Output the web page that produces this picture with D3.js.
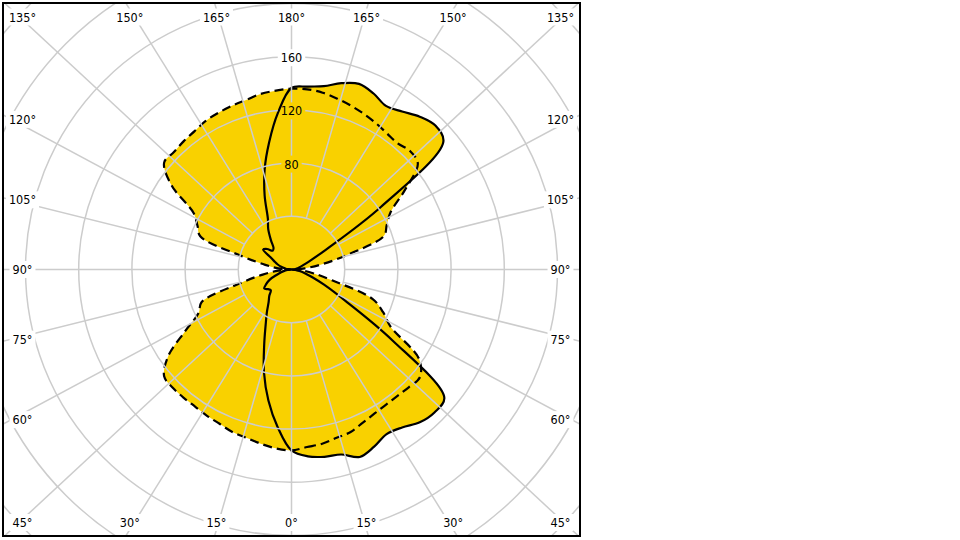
<!DOCTYPE html>
<html>
<head>
<meta charset="utf-8">
<script src="https://cdn.jsdelivr.net/npm/d3@7"></script>
<style>
  html, body { margin: 0; padding: 0; background: #ffffff; }
  svg { display: block; }
  text { font-family: "DejaVu Sans Condensed", "DejaVu Sans", sans-serif; font-size: 12.5px; fill: #000; }
</style>
</head>
<body>
<svg id="chart" width="960" height="540"></svg>
<script>
// gamma angles (0 = down, 180 = up)
const gammas = [0,5,10,15,20,25,30,35,40,45,50,55,60,65,70,75,80,85,90,95,100,105,110,115,120,125,130,135,140,145,150,155,160,165,170,175,180];
// C0 plane (solid, right half) and C180 plane (solid, left half)
const c0   = [136,141,143,144,150,147,143,145,150,152,150,92,46,27,16,10,6,3,0,2,4,6,9,15,30,82,149,153,150,145,142,146,148.5,145,140,138,136.5];
const c180 = [136,119,100,80,60,46,37,30,26,22,23,25,22,18,12,8,5,3,0,3,5,8,11,14,18,26,24,20,21,27,35,42,59,78,97,118,136.5];
// C90 plane (dashed, right half) and C270 plane (dashed, left half)
const c90  = [136,134,133,131,130,127,125,124,124,125,126,117,86,76,65,32,17,8,0,10,24,45,74,79,86,104,124,126,124,125,127,129,131,133,135,136,136];
const c270 = [136,135,133,131,130,128,127,126,126,126,125,113,92,77,72,40,22,10,0,10,20,38,73,78,85,110,125,125,126,127,129,130,131,132,134,135,136];
// radial tick labels and angle grid
const radialTicks = [40,80,120,160,200,240,280];
const radialLabels = [80,120,160];
const gridAngles = d3.range(0, 360, 15); // screen angle, clockwise from up

const svg = d3.select("#chart");
const frame = {x: 3, y: 3, w: 577, h: 533};
const cx = frame.x + frame.w / 2, cy = frame.y + frame.h / 2;
const r = d3.scaleLinear().domain([0, 200]).range([0, 266]);

const defs = svg.append("defs");
defs.append("clipPath").attr("id", "frameClip")
  .append("rect").attr("x", frame.x).attr("y", frame.y).attr("width", frame.w).attr("height", frame.h);

const plot = svg.append("g").attr("clip-path", "url(#frameClip)");

// build polygon points for a plane pair (right half gammas 0..180, left half 175..5)
function planePoints(right, left) {
  const pts = [];
  gammas.forEach((g, i) => pts.push([Math.PI - g * Math.PI / 180, r(right[i])]));
  for (let i = gammas.length - 2; i >= 1; i--) {
    pts.push([Math.PI + gammas[i] * Math.PI / 180, r(left[i])]);
  }
  return pts;
}
const line = d3.lineRadial().angle(d => d[0]).radius(d => d[1])
  .curve(d3.curveCatmullRomClosed.alpha(0.5));

const solidPts = planePoints(c0, c180);
const dashPts = planePoints(c90, c270);

const curves = plot.append("g").attr("transform", `translate(${cx},${cy})`);
const fillColor = "#f9d100";
curves.append("path").attr("d", line(dashPts)).attr("fill", fillColor);
curves.append("path").attr("d", line(solidPts)).attr("fill", fillColor);

// grid (masked around labels)
const mask = defs.append("mask").attr("id", "labelMask").attr("maskUnits", "userSpaceOnUse")
  .attr("x", 0).attr("y", 0).attr("width", 960).attr("height", 540);
mask.append("rect").attr("x", 0).attr("y", 0).attr("width", 960).attr("height", 540).attr("fill", "white");

const grid = plot.append("g").attr("mask", "url(#labelMask)");
const gridColor = "#cccccc";
grid.selectAll("circle.ring").data(radialTicks).join("circle")
  .attr("cx", cx).attr("cy", cy).attr("r", d => r(d))
  .attr("fill", "none").attr("stroke", gridColor).attr("stroke-width", 1.5);

const halfW = 280, halfH = 260;
function labelDir(theta) {
  const t = theta * Math.PI / 180;
  const s = Math.sin(t), c = -Math.cos(t);
  const m = Math.max(Math.abs(s), Math.abs(c));
  return [halfW * s / m, halfH * c / m];
}
function spokePoint(theta, rad) {
  const v = labelDir(theta), L = Math.hypot(v[0], v[1]);
  return [cx + v[0] / L * rad, cy + v[1] / L * rad];
}
grid.selectAll("line.spoke").data(gridAngles).join("line")
  .attr("x1", d => spokePoint(d, r(40))[0]).attr("y1", d => spokePoint(d, r(40))[1])
  .attr("x2", d => spokePoint(d, 700)[0]).attr("y2", d => spokePoint(d, 700)[1])
  .attr("stroke", gridColor).attr("stroke-width", 1.5);

// curve strokes
curves.append("path").attr("d", line(dashPts)).attr("fill", "none")
  .attr("stroke", "#000").attr("stroke-width", 2.2).attr("stroke-dasharray", "9,5");
curves.append("path").attr("d", line(solidPts)).attr("fill", "none")
  .attr("stroke", "#000").attr("stroke-width", 2.2);

// frame
svg.append("rect").attr("x", frame.x).attr("y", frame.y).attr("width", frame.w).attr("height", frame.h)
  .attr("fill", "none").attr("stroke", "#000").attr("stroke-width", 2);

// labels
const labels = svg.append("g");
const angleLabelData = gridAngles.map(th => {
  const v = labelDir(th);
  const x = Math.max(cx - 269, Math.min(cx + 269, cx + v[0]));
  const y = Math.max(cy - 252.5, Math.min(cy + 253, cy + v[1]));
  const gamma = th <= 180 ? 180 - th : th - 180;
  return {x, y, text: gamma + "°"};
});
const valueLabelData = radialLabels.map(v => ({x: cx, y: cy - r(v) + 1, text: String(v)}));
const allLabels = angleLabelData.concat(valueLabelData);
const texts = labels.selectAll("text").data(allLabels).join("text")
  .attr("x", d => d.x).attr("y", d => d.y)
  .attr("text-anchor", "middle").attr("dominant-baseline", "central")
  .text(d => d.text);
texts.each(function() {
  const b = this.getBBox();
  mask.append("rect").attr("x", b.x - 3).attr("y", b.y - 1).attr("width", b.width + 6).attr("height", b.height + 2)
    .attr("fill", "black");
});
</script>
</body>
</html>
